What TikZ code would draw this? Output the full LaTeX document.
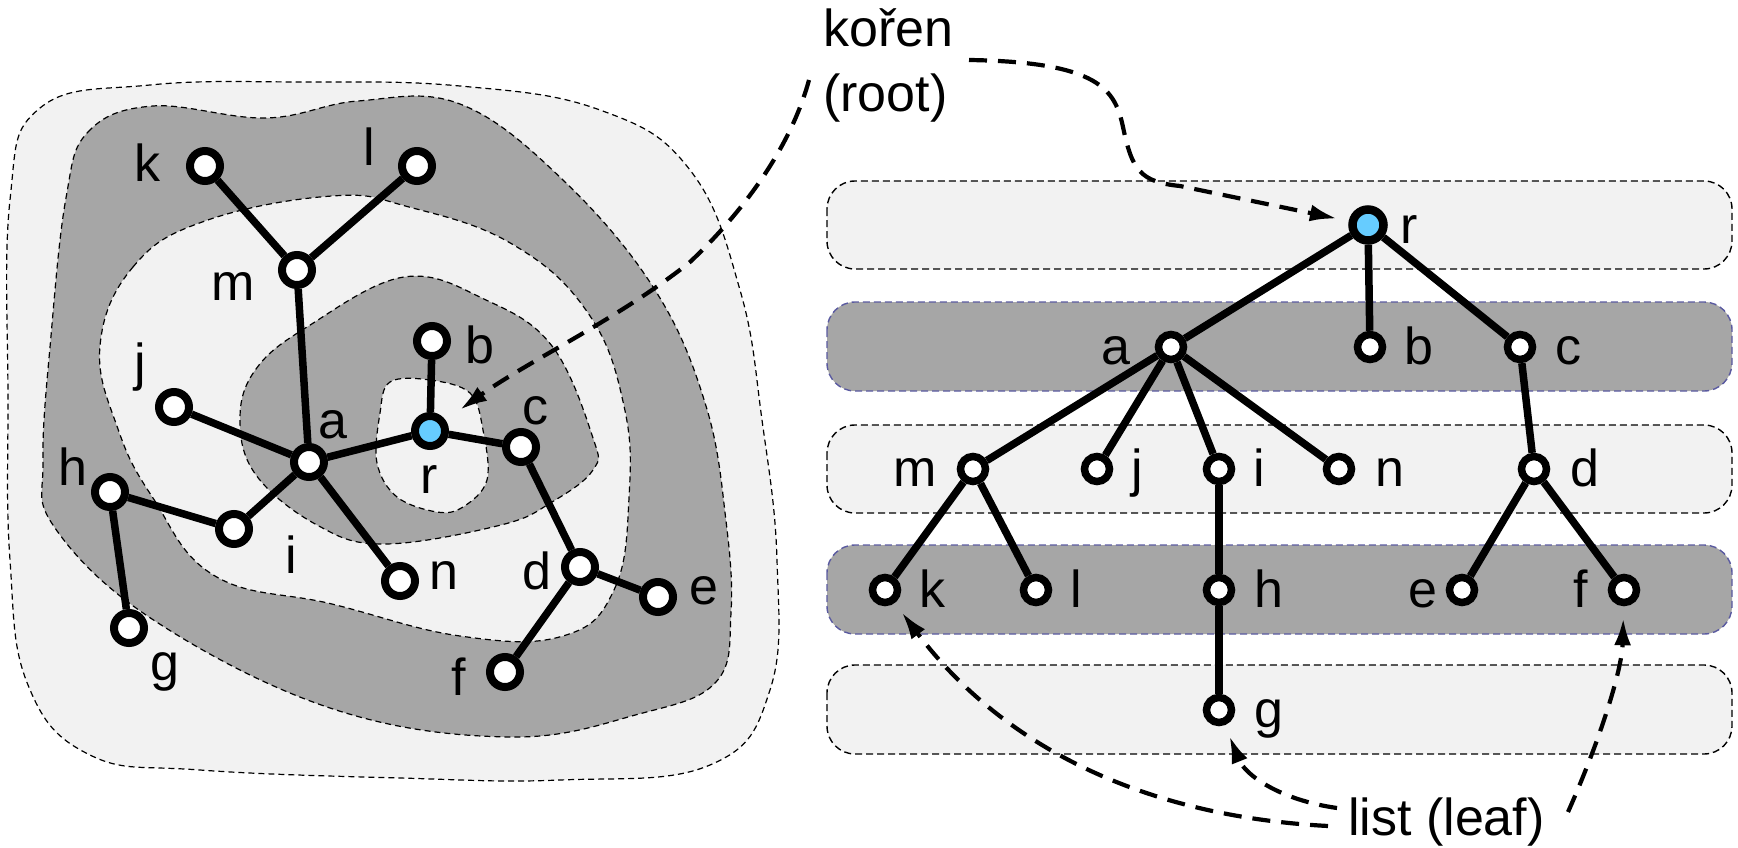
\documentclass[tikz,border=0pt]{standalone}
\usepackage{fontspec}
\setmainfont{Liberation Sans}
\usetikzlibrary{arrows.meta,calc}
\definecolor{lightg}{HTML}{F2F2F2}
\definecolor{darkg}{HTML}{A6A6A6}
\definecolor{rootblue}{HTML}{66CCFF}
\definecolor{bandedge}{HTML}{5A5AA0}
\begin{document}
\begin{tikzpicture}[x=1pt,y=-1pt,
  font=\fontsize{52}{60}\selectfont,
  lv/.style={circle,draw,line width=8pt,fill=white,minimum size=30pt,inner sep=0pt},
  rv/.style={circle,draw,line width=7.5pt,fill=white,minimum size=25pt,inner sep=0pt},
  edge/.style={line width=7.5pt},
  lbl/.style={anchor=base,inner sep=0pt},
  lblw/.style={anchor=base west,inner sep=0pt},
  lble/.style={anchor=base east,inner sep=0pt},
  region/.style={draw=black,line width=1.2pt,dash pattern=on 6pt off 4pt},
  band/.style={rounded corners=28pt,line width=1.4pt,dash pattern=on 7pt off 4pt},
  ptr/.style={line width=4.2pt,dash pattern=on 18pt off 11pt,-{Latex[length=27pt,width=17pt]}}]
\useasboundingbox (0,0) rectangle (1738,848);

% ---------- left: nested regions ----------
\draw[region,fill=lightg] plot[smooth cycle,tension=0.7] coordinates {
  (10,200) (40,108) (150,85) (300,82) (460,86) (600,110) (690,170) (740,290)
  (762,420) (777,560) (770,690) (710,765) (560,780) (400,778) (200,770)
  (90,755) (28,685) (10,560) (8,400)};
\draw[region,fill=darkg] plot[smooth cycle,tension=0.65] coordinates {
  (66,198) (88,132) (153,106) (266,118) (358,101) (460,104) (563,180)
  (655,290) (706,406) (726,521) (731,613) (716,682) (639,714) (510,737)
  (333,709) (155,621) (55,528) (43,460) (51,336)};
\draw[region,fill=lightg] plot[smooth cycle,tension=0.7] coordinates {
  (100,346) (133,267) (205,221) (332,196) (409,207) (512,244) (588,313)
  (624,406) (629,498) (614,590) (563,636) (460,636) (332,604) (215,576)
  (153,498) (118,429)};
\draw[region,fill=darkg] plot[smooth cycle,tension=0.65] coordinates {
  (240,419) (256,369) (307,327) (404,277) (486,300) (552,346) (593,438)
  (593,470) (552,502) (501,525) (384,544) (317,525) (256,475)};
\draw[region,fill=lightg] plot[smooth cycle,tension=0.6] coordinates {
  (390,382) (430,380) (470,393) (483,430) (487,480) (463,507) (437,512)
  (397,497) (377,463) (380,413)};

% ---------- right: bands ----------
\draw[band,draw=black,fill=lightg] (827,181) rectangle (1732,269);
\draw[band,draw=bandedge,fill=darkg] (827,302) rectangle (1732,391);
\draw[band,draw=black,fill=lightg] (827,425) rectangle (1732,513);
\draw[band,draw=bandedge,fill=darkg] (827,545) rectangle (1732,634);
\draw[band,draw=black,fill=lightg] (827,665) rectangle (1732,754);

% ---------- left graph ----------
\node[lv] (Lk) at (205,166) {};
\node[lv] (Ll) at (417,166) {};
\node[lv] (Lm) at (297,270) {};
\node[lv] (Lj) at (174,407) {};
\node[lv] (La) at (309,462) {};
\node[lv] (Lb) at (432,341) {};
\node[lv,fill=rootblue] (Lr) at (430,431) {};
\node[lv] (Lc) at (521,447) {};
\node[lv] (Lh) at (110,492) {};
\node[lv] (Li) at (234,529) {};
\node[lv] (Ln) at (400,581) {};
\node[lv] (Ld) at (580,567) {};
\node[lv] (Le) at (658,597) {};
\node[lv] (Lg) at (129,628) {};
\node[lv] (Lf) at (505,672) {};

\draw[edge] (Lr) -- (La);
\draw[edge] (Lr) -- (Lb);
\draw[edge] (Lr) -- (Lc);
\draw[edge] (La) -- (Lm);
\draw[edge] (La) -- (Lj);
\draw[edge] (La) -- (Li);
\draw[edge] (La) -- (Ln);
\draw[edge] (Lm) -- (Lk);
\draw[edge] (Lm) -- (Ll);
\draw[edge] (Li) -- (Lh);
\draw[edge] (Lh) -- (Lg);
\draw[edge] (Lc) -- (Ld);
\draw[edge] (Ld) -- (Le);
\draw[edge] (Ld) -- (Lf);

\node[lbl] (tLk) at (147,182) {k};
\node[lbl] (tLl) at (369,166) {l};
\node[lbl] (tLm) at (233,300) {m};
\node[lbl] (tLj) at (140,380) {j};
\node[lbl] (tLa) at (333,438) {a};
\node[lbl] (tLb) at (480,363) {b};
\node[lbl] (tLc) at (535,424) {c};
\node[lbl] (tLr) at (429,493) {r};
\node[lbl] (tLh) at (73,485) {h};
\node[lbl] (tLi) at (291,573) {i};
\node[lbl] (tLn) at (444,589) {n};
\node[lbl] (tLd) at (537,589) {d};
\node[lbl] (tLe) at (704,604) {e};
\node[lbl] (tLg) at (165,680) {g};
\node[lbl] (tLf) at (459,695) {f};

% ---------- right tree ----------
\node[circle,draw,line width=8.5pt,fill=rootblue,minimum size=31pt,inner sep=0pt] (Rr) at (1368,225) {};
\node[rv] (Ra) at (1171,347) {};
\node[rv] (Rb) at (1370,347) {};
\node[rv] (Rc) at (1520,347) {};
\node[rv] (Rm) at (973,469) {};
\node[rv] (Rj) at (1097,469) {};
\node[rv] (Ri) at (1219,469) {};
\node[rv] (Rn) at (1339,469) {};
\node[rv] (Rd) at (1534,469) {};
\node[rv] (Rk) at (885,590) {};
\node[rv] (Rl) at (1036,590) {};
\node[rv] (Rh) at (1219,590) {};
\node[rv] (Re) at (1462,590) {};
\node[rv] (Rf) at (1624,590) {};
\node[rv] (Rg) at (1219,710) {};

\draw[edge] (Rr) -- (Ra);
\draw[edge] (Rr) -- (Rb);
\draw[edge] (Rr) -- (Rc);
\draw[edge] (Ra) -- (Rm);
\draw[edge] (Ra) -- (Rj);
\draw[edge] (Ra) -- (Ri);
\draw[edge] (Ra) -- (Rn);
\draw[edge] (Rc) -- (Rd);
\draw[edge] (Rm) -- (Rk);
\draw[edge] (Rm) -- (Rl);
\draw[edge] (Ri) -- (Rh);
\draw[edge] (Rh) -- (Rg);
\draw[edge] (Rd) -- (Re);
\draw[edge] (Rd) -- (Rf);

\node[lblw] (tRr) at (1400,243) {r};
\node[lble] (tRa) at (1131,364) {a};
\node[lblw] (tRb) at (1404,364) {b};
\node[lblw] (tRc) at (1555,364) {c};
\node[lble] (tRm) at (937,486) {m};
\node[lblw] (tRj) at (1131,486) {j};
\node[lblw] (tRi) at (1253,486) {i};
\node[lblw] (tRn) at (1375,486) {n};
\node[lblw] (tRd) at (1570,486) {d};
\node[lblw] (tRk) at (919,607) {k};
\node[lblw] (tRl) at (1070,607) {l};
\node[lblw] (tRh) at (1254,607) {h};
\node[lble] (tRe) at (1438,607) {e};
\node[lble] (tRf) at (1588,607) {f};
\node[lblw] (tRg) at (1254,727) {g};

% ---------- annotations ----------
\node[lblw] (koren) at (823,47) {kořen};
\node[lblw] (rootlbl) at (823,112) {(root)};
\node[lblw] (leaf) at (1348,835) {list (leaf)};

\coordinate (kA) at (809,80);
\coordinate (kB) at (969,60);
\coordinate (lK) at (1328,826);
\coordinate (lG) at (1337,808);
\coordinate (lF) at (1568,812);

\draw[ptr,shorten >=18pt] (kA) .. controls (790,150) and (740,215) .. (690,262)
   .. controls (620,318) and (530,360) .. (Lr);
\draw[ptr,shorten >=12pt] (kB) .. controls (1100,62) and (1115,90) .. (1123,127)
   .. controls (1132,170) and (1140,182) .. (1180,186) -- (Rr);
\draw[ptr,shorten >=12pt] (lK) .. controls (1120,815) and (990,730) .. (Rk);
\draw[ptr,shorten >=12pt] (lG) .. controls (1280,800) and (1245,775) .. (Rg);
\draw[ptr,shorten >=12pt] (lF) .. controls (1600,740) and (1622,670) .. (Rf);
\end{tikzpicture}
\end{document}
